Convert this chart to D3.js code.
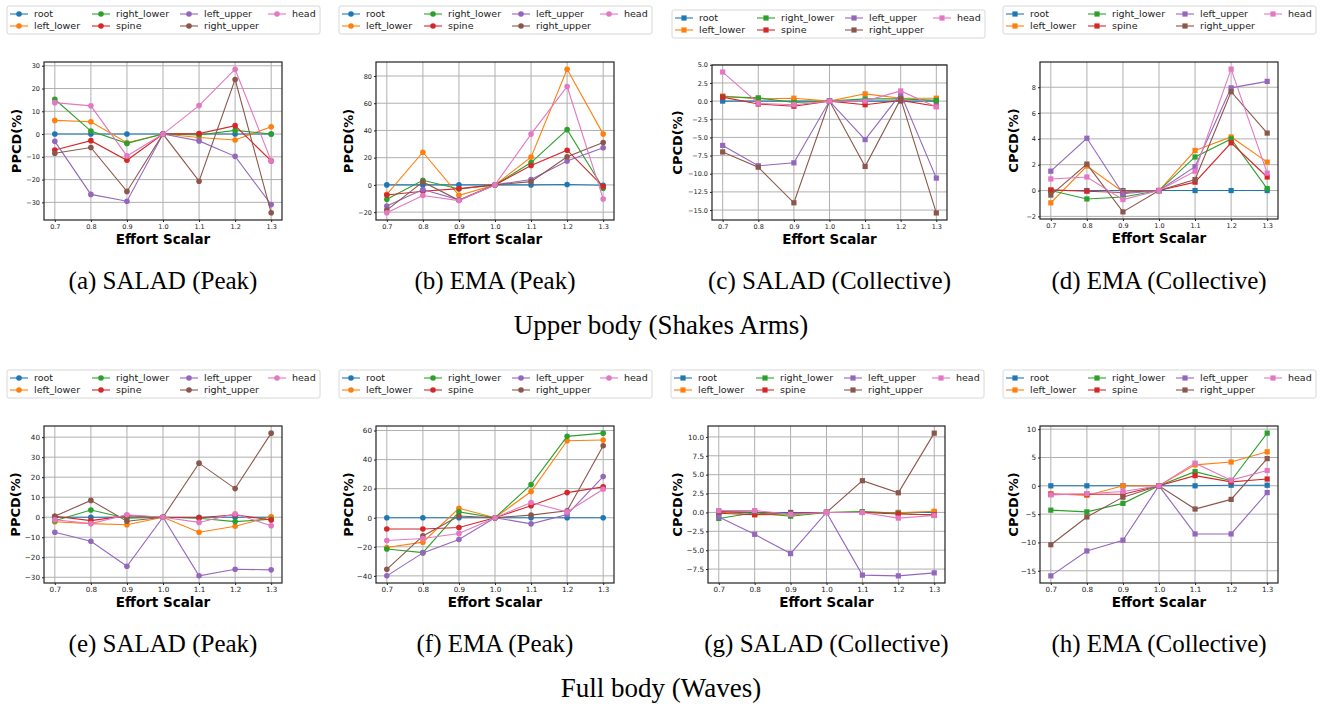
<!DOCTYPE html>
<html>
<head>
<meta charset="utf-8">
<script src="https://cdn.jsdelivr.net/npm/d3@7"></script>
<style>
  body { margin: 0; background: #fff; }
  svg text { font-family: "DejaVu Sans", sans-serif; }
</style>
</head>
<body>
<script>
// effort scalar values on the x axis
var efforts = [0.7, 0.8, 0.9, 1.0, 1.1, 1.2, 1.3];
var parts = ["root", "left_lower", "right_lower", "spine", "left_upper", "right_upper", "head"];
var colors = ["#1f77b4", "#ff7f0e", "#2ca02c", "#d62728", "#9467bd", "#8c564b", "#e377c2"];

// Upper body (Shakes Arms) - one row per part, in the order of parts
var upperSaladPeak = [
  [0, 0, 0, 0, 0, 0, 0],
  [6.0, 5.4, -3.8, 0, -1.5, -2.6, 3.2],
  [15.3, 1.3, -4.1, 0, -0.4, 1.6, 0],
  [-7.0, -2.9, -11.5, 0, 0.2, 3.7, -11.8],
  [-3.2, -26.5, -29.5, 0, -3.0, -9.8, -31.0],
  [-8.4, -5.9, -25.2, 0, -20.7, 24.0, -34.6],
  [13.8, 12.4, -9.6, 0, 12.5, 28.5, -11.8]
];
var upperEmaPeak = [
  [0, 0, 0, 0, 0, 0.3, -0.3],
  [-6.9, 24.0, -7.6, 0, 20.4, 85.0, 37.3],
  [-10.6, 3.4, -3.0, 0, 16.4, 40.6, -2.5],
  [-7.4, -4.7, -2.7, 0, 14.3, 25.5, -1.2],
  [-15.5, -3.4, -11.0, 0, 4.0, 17.5, 27.3],
  [-18.5, 2.2, -11.3, 0, 2.4, 20.6, 31.2],
  [-20.5, -7.8, -11.5, 0, 37.3, 72.3, -10.3]
];
var upperSaladColl = [
  [0, 0, 0, 0, 0, 0, 0],
  [0.7, 0.3, 0.4, 0, 1.0, 0.4, 0.4],
  [0.6, 0.45, -0.2, 0, 0.3, 0.3, 0.1],
  [0.55, -0.4, -0.7, 0, -0.5, 0.1, -0.7],
  [-6.1, -8.9, -8.5, 0, -5.3, 1.0, -10.6],
  [-7.0, -9.1, -14.0, 0, -9.0, 0.3, -15.4],
  [4.0, -0.3, -0.5, 0, 0, 1.4, -0.8]
];
var upperEmaColl = [
  [0, 0, 0, 0, 0, 0, 0],
  [-0.95, 1.9, -0.1, 0, 3.1, 4.15, 2.2],
  [0, -0.65, -0.5, 0, 2.6, 4.0, 0.15],
  [0.05, -0.05, -0.15, 0, 0.65, 3.7, 1.05],
  [1.5, 4.05, -0.25, 0, 1.85, 7.95, 8.45],
  [-0.35, 2.05, -1.65, 0, 0.85, 7.65, 4.45],
  [0.9, 1.05, -0.7, 0, 1.5, 9.4, 1.35]
];

// Full body (Waves)
var fullSaladPeak = [
  [0, 0, 0, 0, 0, 0, 0],
  [-2.3, -3.2, -3.8, 0, -7.5, -4.5, 0.2],
  [-1.8, 3.6, -0.5, 0, -0.5, -2.2, -1.0],
  [0.5, -1.7, 0.8, 0, -0.3, 1.2, -1.4],
  [-7.5, -12.0, -24.5, 0, -29.3, -26.0, -26.3],
  [0.5, 8.4, -2.0, 0, 27.0, 14.3, 42.0],
  [-1.3, -3.2, 1.2, 0, -2.6, 1.7, -4.3]
];
var fullEmaPeak = [
  [0, 0, 0, 0, 0, 0, 0],
  [-20.5, -16.8, 6.5, 0, 18.0, 53.0, 53.5],
  [-21.5, -24.0, 4.0, 0, 22.8, 56.0, 58.2],
  [-7.8, -7.8, -6.7, 0, 8.3, 17.3, 21.2],
  [-40.0, -24.2, -15.0, 0, -4.2, 2.2, 28.3],
  [-35.5, -12.5, 1.2, 0, 1.8, 4.8, 49.5],
  [-15.7, -14.3, -10.8, 0, 10.5, 4.0, 19.6]
];
var fullSaladColl = [
  [0, 0, 0, 0, 0, 0, 0],
  [0.1, -0.3, -0.3, 0, 0.05, -0.05, 0.15],
  [-0.8, -0.05, -0.5, 0, 0.1, -0.1, -0.4],
  [-0.1, -0.3, -0.1, 0, 0, -0.2, -0.3],
  [-0.6, -2.9, -5.45, 0, -8.3, -8.4, -8.0],
  [0.1, 0.05, -0.2, 0, 4.2, 2.6, 10.5],
  [0.25, 0.25, -0.25, 0, 0, -0.75, -0.4]
];
var fullEmaColl = [
  [0, 0, 0, 0, 0, 0.1, 0.1],
  [-1.4, -1.7, 0, 0, 3.7, 4.2, 6.0],
  [-4.3, -4.6, -3.1, 0, 2.5, 0.9, 9.3],
  [-1.5, -1.5, -1.5, 0, 1.8, 0.7, 1.2],
  [-15.9, -11.5, -9.6, 0, -8.5, -8.5, -1.2],
  [-10.4, -5.5, -2.0, 0, -4.1, -2.4, 4.8],
  [-1.6, -1.4, -1.0, 0, 4.0, 1.0, 2.7]
];

// y tick labels
var ticksA = [-30, -20, -10, 0, 10, 20, 30];
var ticksB = [-20, 0, 20, 40, 60, 80];
var ticksC = [-15, -12.5, -10, -7.5, -5, -2.5, 0, 2.5, 5];
var ticksD = [-2, 0, 2, 4, 6, 8];
var ticksE = [-30, -20, -10, 0, 10, 20, 30, 40];
var ticksF = [-40, -20, 0, 20, 40, 60];
var ticksG = [-7.5, -5, -2.5, 0, 2.5, 5, 7.5, 10];
var ticksH = [-15, -10, -5, 0, 5, 10];

var captions = ["(a) SALAD (Peak)", "(b) EMA (Peak)", "(c) SALAD (Collective)", "(d) EMA (Collective)",
                "(e) SALAD (Peak)", "(f) EMA (Peak)", "(g) SALAD (Collective)", "(h) EMA (Collective)"];
var rowTitles = ["Upper body (Shakes Arms)", "Full body (Waves)"];

var intFmt = d3.format("d"), decFmt = d3.format(".1f");

var panels = [
  { values: upperSaladPeak, ticks: ticksA, label: "PPCD(%)", sq: false, fmt: intFmt, l: 44, r: 282, t: 62, b: 220, lx: 7, ly: 6, ylx: 16 },
  { values: upperEmaPeak, ticks: ticksB, label: "PPCD(%)", sq: false, fmt: intFmt, l: 376, r: 614, t: 62, b: 220, lx: 339, ly: 6, ylx: 348 },
  { values: upperSaladColl, ticks: ticksC, label: "CPCD(%)", sq: true, fmt: decFmt, l: 712, r: 947, t: 65, b: 220, lx: 672, ly: 10, ylx: 677 },
  { values: upperEmaColl, ticks: ticksD, label: "CPCD(%)", sq: true, fmt: intFmt, l: 1040, r: 1278, t: 62, b: 219, lx: 1003, ly: 6, ylx: 1013 },
  { values: fullSaladPeak, ticks: ticksE, label: "PPCD(%)", sq: false, fmt: intFmt, l: 44, r: 282, t: 426, b: 583, lx: 7, ly: 370, ylx: 15 },
  { values: fullEmaPeak, ticks: ticksF, label: "PPCD(%)", sq: false, fmt: intFmt, l: 376, r: 614, t: 426, b: 583, lx: 339, ly: 370, ylx: 348 },
  { values: fullSaladColl, ticks: ticksG, label: "CPCD(%)", sq: true, fmt: decFmt, l: 708, r: 945, t: 426, b: 583, lx: 671, ly: 370, ylx: 677 },
  { values: fullEmaColl, ticks: ticksH, label: "CPCD(%)", sq: true, fmt: intFmt, l: 1040, r: 1278, t: 426, b: 583, lx: 1003, ly: 370, ylx: 1013 }
];

var W = 1333, H = 704;
var svg = d3.select("body").append("svg").attr("width", W).attr("height", H);

function minus(s) { return String(s).replace("-", "\u2212"); }

function drawMarker(g, sq, cx, cy, color) {
  if (sq) {
    g.append("rect").attr("x", cx - 2.6).attr("y", cy - 2.6).attr("width", 5.2).attr("height", 5.2)
      .attr("fill", color);
  } else {
    g.append("circle").attr("cx", cx).attr("cy", cy).attr("r", 2.8).attr("fill", color);
  }
}

panels.forEach(function(p, pi) {
  var g = svg.append("g");
  var xPad = (efforts[efforts.length - 1] - efforts[0]) * 0.05;
  var x = d3.scaleLinear().domain([efforts[0] - xPad, efforts[efforts.length - 1] + xPad]).range([p.l, p.r]);
  var all = d3.merge(p.values);
  var lo = d3.min(all), hi = d3.max(all), yPad = (hi - lo) * 0.05;
  var y = d3.scaleLinear().domain([lo - yPad, hi + yPad]).range([p.b, p.t]);
  var small = pi < 4 ? 6.5 : 7.2;

  // grid
  g.selectAll(".vg").data(efforts).enter().append("line")
    .attr("x1", function(d) { return x(d); }).attr("x2", function(d) { return x(d); })
    .attr("y1", p.t).attr("y2", p.b).attr("stroke", "#b0b0b0").attr("stroke-width", 1);
  g.selectAll(".hg").data(p.ticks).enter().append("line")
    .attr("y1", function(d) { return y(d); }).attr("y2", function(d) { return y(d); })
    .attr("x1", p.l).attr("x2", p.r).attr("stroke", "#b0b0b0").attr("stroke-width", 1);

  // axes
  var ax = g.append("g").attr("transform", "translate(0," + p.b + ")")
    .call(d3.axisBottom(x).tickValues(efforts).tickSize(2).tickPadding(2).tickFormat(d3.format(".1f")));
  var ay = g.append("g").attr("transform", "translate(" + p.l + ",0)")
    .call(d3.axisLeft(y).tickValues(p.ticks).tickSize(2).tickPadding(2)
      .tickFormat(function(d) { return minus(p.fmt(d)); }));
  [ax, ay].forEach(function(a) {
    a.select(".domain").remove();
    a.selectAll("text").attr("font-size", small).attr("fill", "#222").attr("font-family", "DejaVu Sans");
    a.selectAll("line").attr("stroke", "#222");
  });

  // series
  p.values.forEach(function(vals, si) {
    var pts = vals.map(function(v, i) { return [x(efforts[i]), y(v)]; });
    g.append("path").attr("d", d3.line()(pts)).attr("fill", "none")
      .attr("stroke", colors[si]).attr("stroke-width", 1.1);
    pts.forEach(function(q) { drawMarker(g, p.sq, q[0], q[1], colors[si]); });
  });

  // frame
  g.append("rect").attr("x", p.l).attr("y", p.t).attr("width", p.r - p.l).attr("height", p.b - p.t)
    .attr("fill", "none").attr("stroke", "#222").attr("stroke-width", 1.2);

  // labels
  g.append("text").attr("transform", "translate(" + p.ylx + "," + ((p.t + p.b) / 2) + ") rotate(-90)")
    .attr("text-anchor", "middle").attr("dy", "0.35em").attr("font-size", 13).attr("font-weight", "bold")
    .text(p.label);
  g.append("text").attr("x", (p.l + p.r) / 2).attr("y", p.b + 24).attr("text-anchor", "middle")
    .attr("font-size", 13.5).attr("font-weight", "bold").text("Effort Scalar");

  // legend
  var lg = g.append("g").attr("transform", "translate(" + p.lx + "," + p.ly + ")");
  lg.append("rect").attr("width", 313).attr("height", 28).attr("rx", 2)
    .attr("fill", "#fff").attr("stroke", "#d8d8d8").attr("stroke-width", 1);
  var colX = [3, 85, 173, 261];
  parts.forEach(function(name, si) {
    var cx = colX[Math.floor(si / 2)], cy = si % 2 === 0 ? 8 : 20;
    lg.append("line").attr("x1", cx).attr("x2", cx + 18).attr("y1", cy).attr("y2", cy)
      .attr("stroke", colors[si]).attr("stroke-width", 1.1);
    drawMarker(lg, p.sq, cx + 9, cy, colors[si]);
    lg.append("text").attr("x", cx + 24).attr("y", cy).attr("dy", "0.35em")
      .attr("font-size", 9.5).attr("fill", "#222").text(name);
  });

  // caption
  svg.append("text").attr("x", (p.l + p.r) / 2).attr("y", pi < 4 ? 289 : 652)
    .attr("text-anchor", "middle").attr("font-size", 25)
    .style("font-family", "'Liberation Serif', serif").text(captions[pi]);
});

rowTitles.forEach(function(t, i) {
  svg.append("text").attr("x", 661).attr("y", i === 0 ? 334 : 697).attr("text-anchor", "middle")
    .style("font-family", "'Liberation Serif', serif").attr("font-size", 27).text(t);
});
</script>
</body>
</html>
